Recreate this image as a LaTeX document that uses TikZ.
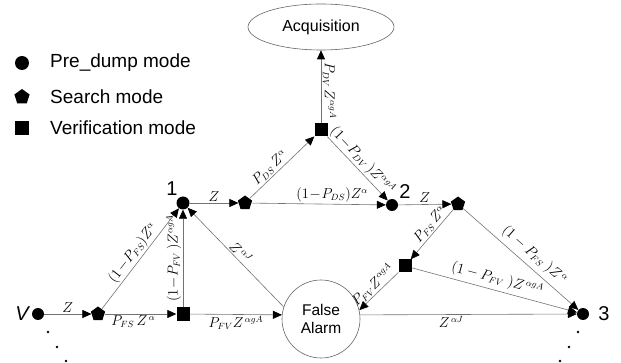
\documentclass[tikz,border=0pt]{standalone}
\usepackage[no-math]{fontspec}
\setmainfont{Liberation Sans}
\usetikzlibrary{shapes.geometric,arrows.meta}
\begin{document}
\begin{tikzpicture}[x=1pt,y=-1pt,
  conn/.style={draw=black!55, line width=0.6pt, -{Triangle[length=9pt,width=8pt,color=black]}},
  lab/.style={font=\fontsize{13.5}{16}\selectfont, inner sep=1.5pt},
  dotnode/.style={circle, fill=black, minimum size=13pt, inner sep=0pt},
  pentnode/.style={regular polygon, regular polygon sides=5, fill=black, minimum size=15pt, inner sep=0pt},
  sqnode/.style={rectangle, fill=black, minimum size=13pt, inner sep=0pt},
  smalldot/.style={circle, fill=black, minimum size=2.6pt, inner sep=0pt},
  numlab/.style={font=\fontsize{20}{22}\selectfont, inner sep=0pt},
  legtext/.style={font=\fontsize{19}{21}\selectfont, anchor=west, inner sep=0pt},
  state/.style={draw=black!60, line width=0.6pt, align=center, inner sep=0pt}
]
\useasboundingbox (0,0) rectangle (621,363);

% legend
\node[dotnode, minimum size=14pt] (lc) at (22,63) {};
\node[legtext] (lct) at (50,63) {Pre\_dump mode};
\node[pentnode, minimum size=16pt] (lp) at (22,97) {};
\node[legtext] (lpt) at (50,97) {Search mode};
\node[sqnode, minimum size=14pt] (ls) at (22,128) {};
\node[legtext] (lst) at (50,128) {Verification mode};

% states
\node[state, ellipse, minimum width=146pt, minimum height=46pt, font=\fontsize{16}{18}\selectfont] (acq) at (321,27) {Acquisition};
\node[state, circle, minimum size=78pt, font=\fontsize{15.5}{18}\selectfont] (FA) at (321,319) {False\\Alarm};

\node[sqnode] (sqT) at (321,130) {};
\node[dotnode] (n1) at (183,203) {};
\node[pentnode] (p2) at (245,203) {};
\node[dotnode, minimum size=12pt] (n2) at (392,205) {};
\node[pentnode] (p3) at (458,204) {};
\node[sqnode] (sqR) at (405,266) {};
\node[dotnode, minimum size=12pt] (V) at (38,314) {};
\node[pentnode] (pL) at (98,314) {};
\node[sqnode] (sqB) at (183,314) {};
\node[dotnode, minimum size=12pt] (n3) at (583,314) {};

% number labels
\node[numlab] (t1) at (172,189) {1};
\node[numlab] (t2) at (405,192) {2};
\node[numlab] (t3) at (604,314) {3};
\node[numlab, font=\fontsize{20}{22}\selectfont\itshape] (tV) at (22,314) {V};

% dots
\node[smalldot] (d1) at (48,332) {};
\node[smalldot] (d2) at (57,347) {};
\node[smalldot] (d3) at (66,361) {};
\node[smalldot] (d4) at (578,332) {};
\node[smalldot] (d5) at (569,347) {};
\node[smalldot] (d6) at (560,361) {};

% connectors
\draw[conn] (V) -- node[lab, above] {$Z$} (pL);
\draw[conn] (pL) -- node[lab, above, sloped] {$(1\!-\!P_{FS})Z^{\alpha}$} (n1);
\draw[conn] (pL) -- node[lab, below, pos=0.4] {$P_{FS}\,Z^{\,\alpha}$} (sqB);
\draw[conn] (sqB) -- node[lab, above, sloped] {$(1\!-\!P_{FV}\,)Z^{\alpha gA}$} (n1);
\draw[conn] (sqB) -- node[lab, below] {$P_{FV}Z^{\,\alpha gA}$} (FA.174);
\draw[conn] (FA.162) -- node[lab, above, sloped] {$Z^{\,\alpha J}$} (n1);
\draw[conn] (n1) -- node[lab, above] {$Z$} (p2);
\draw[conn] (p2) -- node[lab, above, sloped, pos=0.4] {$P_{DS}\,Z^{\alpha}$} (sqT);
\draw[conn] (p2) -- node[lab, above, pos=0.6] {$(1\!-\!P_{DS})Z^{\alpha}$} (n2);
\draw[conn] (sqT) -- node[lab, anchor=south, rotate=-90, pos=0.45] {$P_{DV}\,Z^{\alpha gA}$} (acq);
\draw[conn] (sqT) -- node[lab, above, sloped, pos=0.47] {$(1\!-\!P_{DV}\,)Z^{\alpha gA}$} (n2);
\draw[conn] (n2) -- node[lab, above] {$Z$} (p3);
\draw[conn] (p3) -- node[lab, above, sloped, pos=0.4] {$P_{FS}\,Z^{\alpha}$} (sqR);
\draw[conn] (p3) -- node[lab, above=3pt, sloped, pos=0.55] {$(1-P_{FS}\;)Z^{\,\alpha}$} (n3);
\draw[conn] (sqR) -- node[lab, above, sloped] {$P_{FV}Z^{\alpha gA}$} (FA.13);
\draw[conn] (sqR) -- node[lab, above=2pt, sloped] {$(1-P_{FV}\;)Z^{\,\alpha gA}$} (n3);
\draw[conn] (FA.6) -- node[lab, below, pos=0.42] {$Z^{\,\alpha J}$} (n3);
\end{tikzpicture}
\end{document}
